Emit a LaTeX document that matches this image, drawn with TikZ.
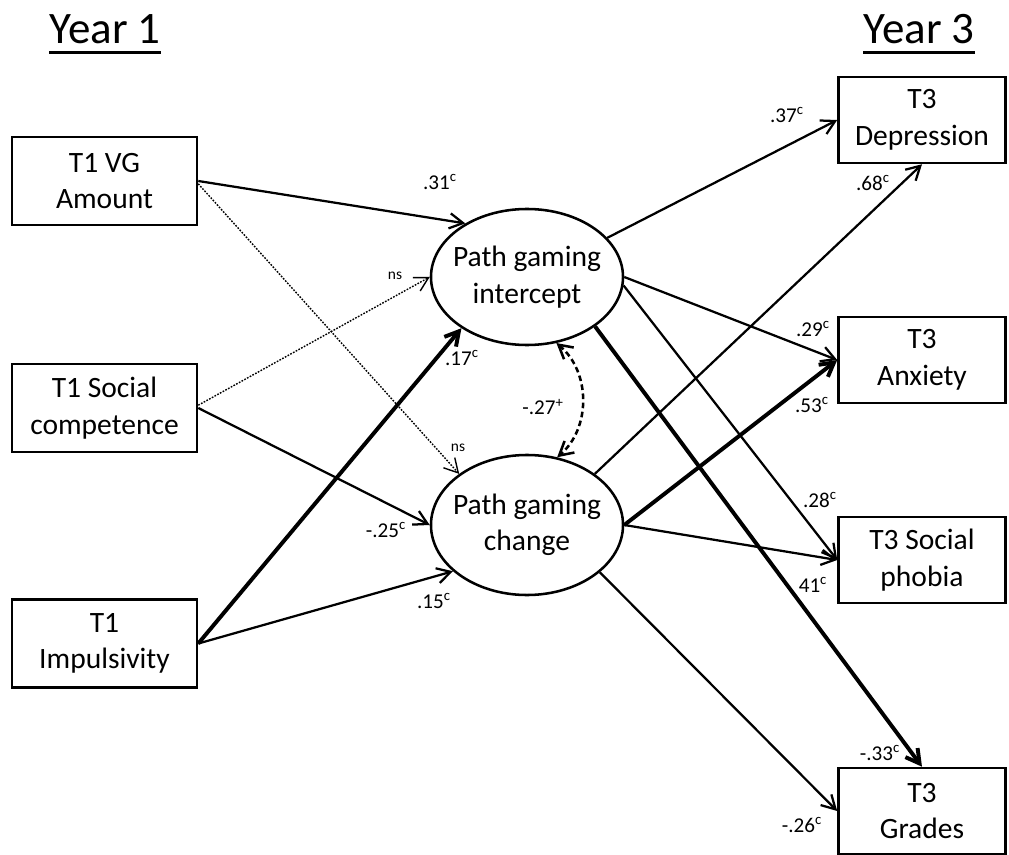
\documentclass[tikz,border=0pt]{standalone}
\usepackage{fontspec}
\setmainfont{Carlito}
\usetikzlibrary{arrows.meta,shapes.geometric}

\begin{document}
\begin{tikzpicture}[x=0.025cm,y=-0.025cm,>={Straight Barb[length=3.4mm,width=3.8mm]},
obs/.style={draw,line width=1.8pt,minimum height=2.2cm,align=center,inner sep=0pt,font=\fontsize{21}{26}\selectfont},
lat/.style={draw,ellipse,line width=1.8pt,minimum width=4.8cm,align=center,inner xsep=-5pt,inner ysep=0pt,font=\fontsize{21}{26}\selectfont},
yr/.style={inner sep=0pt,anchor=base,font=\fontsize{32}{38}\selectfont},
lbl/.style={inner sep=0pt,font=\fontsize{15}{18}\selectfont},
nslbl/.style={inner sep=0pt,font=\fontsize{11}{13}\selectfont},
pth/.style={->,line width=1.6pt},thk/.style={->,line width=2.8pt},
ns/.style={->,line width=1pt,dash pattern=on 1.2pt off 1pt},
cov/.style={<->,line width=1.8pt,dash pattern=on 4pt off 2.5pt}]
\useasboundingbox (0,0) rectangle (1009,855);
% time labels
\node[yr] (y1) at (105,43) {Year 1};
\node[yr] (y3) at (919,43) {Year 3};
\draw[line width=2pt] ([yshift=-6.5pt]y1.south west) -- ([yshift=-6.5pt]y1.south east);
\draw[line width=2pt] ([yshift=-6.5pt]y3.south west) -- ([yshift=-6.5pt]y3.south east);
% year 1 predictors
\node[obs,minimum width=4.625cm] (vg) at (104.5,181) {T1 VG\\Amount};
\node[obs,minimum width=4.625cm] (soc) at (104.5,408) {T1 Social\\competence};
\node[obs,minimum width=4.625cm] (imp) at (104.5,643.5) {T1\\Impulsivity};
% latent growth factors
\node[lat,minimum height=3.4cm] (int) at (527,277) {Path gaming\\intercept};
\node[lat,minimum height=3.5cm] (chg) at (527,525) {Path gaming\\change};
% year 3 outcomes
\node[obs,minimum width=4.175cm,minimum height=2.15cm] (dep) at (922,120) {T3\\Depression};
\node[obs,minimum width=4.175cm,minimum height=2.15cm] (anx) at (922,360) {T3\\Anxiety};
\node[obs,minimum width=4.175cm,minimum height=2.15cm] (sp) at (922,560) {T3 Social\\phobia};
\node[obs,minimum width=4.175cm,minimum height=2.15cm] (grd) at (922,811) {T3\\Grades};
% paths into the growth factors
\draw[pth] (vg.east) -- (int.139);
\draw[ns] ([yshift=-2pt]vg.east) -- (chg.143);
\draw[ns] ([yshift=2pt]soc.east) -- (int.west);
\draw[pth] (soc.east) -- (chg.west);
\draw[thk] (imp.east) -- (int.218);
\draw[pth] (imp.east) -- (chg.212);
\draw[cov] (int.294) to[bend left=50] (chg.66);
% paths to the outcomes
\draw[pth] (int.26) -- (dep.west);
\draw[pth] (chg.37) -- (dep.south);
\draw[pth] (int.east) -- (anx.west);
\draw[thk] (chg.east) -- (anx.west);
\draw[pth] (int.355) -- (sp.west);
\draw[pth] (chg.east) -- (sp.west);
\draw[thk] (int.324) -- (grd.north);
\draw[pth] (chg.327) -- (grd.west);
% coefficients
\node[lbl] (l31) at (440,182) {.31\textsuperscript{c}};
\node[nslbl] (lns1) at (395,276) {ns};
\node[lbl] (l17) at (462,358) {.17\textsuperscript{c}};
\node[lbl] (l27) at (543,407) {-.27\textsuperscript{+}};
\node[nslbl] (lns2) at (458,448) {ns};
\node[lbl] (l25) at (386,530) {-.25\textsuperscript{c}};
\node[lbl] (l15) at (434,601) {.15\textsuperscript{c}};
\node[lbl] (l37) at (787,115) {.37\textsuperscript{c}};
\node[lbl] (l68) at (873,183) {.68\textsuperscript{c}};
\node[lbl] (l29) at (813,329) {.29\textsuperscript{c}};
\node[lbl] (l53) at (812,405) {.53\textsuperscript{c}};
\node[lbl] (l28) at (820,500) {.28\textsuperscript{c}};
\node[lbl] (l41) at (813,585) {41\textsuperscript{c}};
\node[lbl] (l33) at (880,753) {-.33\textsuperscript{c}};
\node[lbl] (l26) at (802,825) {-.26\textsuperscript{c}};
\end{tikzpicture}
\end{document}
